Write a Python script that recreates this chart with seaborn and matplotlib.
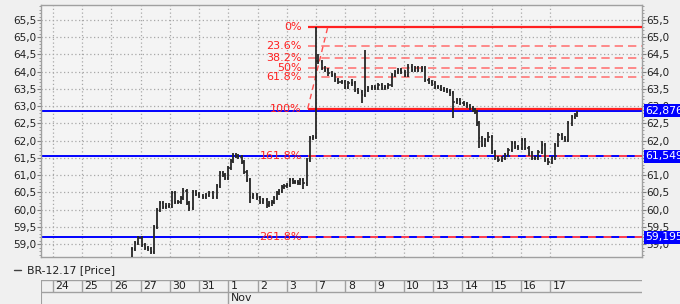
import numpy as np
import matplotlib
matplotlib.use("Agg")
import matplotlib.pyplot as plt
from matplotlib.lines import Line2D
from matplotlib.ticker import FuncFormatter, MultipleLocator
import matplotlib.transforms as mtransforms
import seaborn as sns

# ---------------- data ----------------
day_labels = ["24", "25", "26", "27", "30", "31", "1", "2", "3", "7", "8",
              "9", "10", "13", "14", "15", "16", "17"]
month_label = "Nov"
month_start_day = 6

bar_day = [2.71, 2.80, 2.92, 3.03, 3.15, 3.25, 3.35, 3.45, 3.56, 3.66, 3.76, 3.86,
           3.97, 4.06, 4.17, 4.27, 4.36, 4.45, 4.57, 4.65, 4.79, 4.89, 4.99, 5.13,
           5.23, 5.34, 5.47, 5.60, 5.71, 5.81, 5.88, 5.99, 6.07, 6.16, 6.26, 6.33,
           6.45, 6.53, 6.62, 6.74, 6.84, 6.97, 7.08, 7.18, 7.31, 7.39, 7.48, 7.56,
           7.65, 7.73, 7.82, 7.90, 7.99, 8.11, 8.21, 8.28, 8.38, 8.45, 8.56, 8.68,
           8.79, 8.90, 8.99, 9.07, 9.19, 9.30, 9.42, 9.53, 9.64, 9.76, 9.87, 9.99,
           10.10, 10.22, 10.33, 10.44, 10.56, 10.67, 10.78, 10.90, 11.01, 11.13,
           11.24, 11.35, 11.47, 11.58, 11.70, 11.80, 11.90, 12.04, 12.15, 12.27,
           12.38, 12.49, 12.61, 12.72, 12.84, 12.95, 13.06, 13.17, 13.27, 13.37,
           13.47, 13.58, 13.69, 13.81, 13.92, 14.04, 14.15, 14.26, 14.36, 14.43,
           14.49, 14.55, 14.66, 14.77, 14.89, 15.00, 15.12, 15.23, 15.35, 15.46,
           15.57, 15.69, 15.80, 15.91, 16.03, 16.14, 16.26, 16.37, 16.48, 16.60,
           16.71, 16.83, 16.94, 17.06, 17.17, 17.28, 17.40, 17.51, 17.62, 17.74,
           17.85, 17.92]

bar_close = [58.85, 59.03, 59.18, 58.97, 58.88, 58.85, 58.78, 59.50, 59.99, 60.19, 60.08, 60.12,
             60.10, 60.48, 60.23, 60.23, 60.35, 60.55, 60.19, 60.05, 60.50, 60.45, 60.40, 60.37,
             60.42, 60.48, 60.37, 60.68, 61.06, 61.00, 60.91, 61.20, 61.40, 61.58, 61.55, 61.53,
             61.39, 61.10, 60.86, 60.37, 60.42, 60.33, 60.23, 60.28, 60.13, 60.18, 60.23, 60.35,
             60.48, 60.55, 60.66, 60.68, 60.71, 60.86, 60.80, 60.81, 60.78, 60.86, 60.76, 61.44,
             62.07, 62.12, 64.30, 64.29, 64.10, 64.05, 63.95, 63.90, 63.76, 63.71, 63.71, 63.56,
             63.66, 63.66, 63.47, 63.42, 63.32, 63.47, 63.52, 63.56, 63.52, 63.61,
             63.52, 63.56, 63.61, 63.90, 64.00, 64.05, 64.00, 63.90, 64.15, 64.05,
             64.10, 64.05, 64.10, 63.76, 63.71, 63.66, 63.56, 63.55, 63.50, 63.47,
             63.45, 63.37, 63.13, 63.18, 63.10, 63.06, 63.00, 62.94, 62.89, 62.84,
             62.50, 62.07, 61.87, 62.02, 62.11, 61.68, 61.49, 61.44, 61.49, 61.58,
             61.73, 61.92, 61.82, 61.78, 62.02, 61.78, 61.63, 61.49, 61.49, 61.68,
             61.87, 61.44, 61.39, 61.49, 61.87, 62.16, 62.07, 62.02, 62.50, 62.69,
             62.74, 62.80]

# extreme highs / lows of single bars (bar number -> price)
bar_high_extremes = {62: 65.30, 63: 64.50, 73: 63.80, 77: 64.63, 116: 62.26, 132: 62.00,
                     17: 60.62, 33: 61.63}
bar_low_extremes = {0: 58.50, 58: 60.60, 76: 63.10, 104: 62.66, 113: 61.79, 19: 59.95,
                    39: 60.20, 44: 60.05, 134: 61.30}

blue_levels = [62.876, 61.5492, 59.1955]
blue_labels = ["62,8760", "61,5492", "59,1955"]

fib_names = ["0%", "23.6%", "38.2%", "50%", "61.8%", "100%", "161.8%", "261.8%"]
fib_values = [65.31, 64.74, 64.39, 64.11, 63.84, 62.93, 61.5492, 59.1955]
fib_start_day = 8.71
fib_anchor_day = [8.71, 9.40]
fib_anchor_price = [62.93, 65.31]

legend_label = "BR-12.17 [Price]"

# ---------------- style ----------------
sns.set_style("white")
plt.rcParams["font.family"] = ["DejaVu Sans"]
FS = 7.5

W, H = 680, 304
fig = plt.figure(figsize=(W / 100, H / 100), dpi=100, facecolor="#f0f0f0")

L, R, T, B = 41, 641.7, 5, 257.3
ax = fig.add_axes([L / W, 1 - B / H, (R - L) / W, (B - T) / H])
ax.set_facecolor("#f4f4f4")
xmin = -0.41
xmax = 20.13
ax.set_xlim(xmin, xmax)
ax.set_ylim(58.62, 65.935)

# grid
ax.set_xticks(range(len(day_labels)))
ax.set_yticks(np.arange(59.0, 65.51, 0.5))
ax.yaxis.set_minor_locator(MultipleLocator(0.1))
ax.grid(True, which="major", color="#a8a8a8", linestyle=(0, (1, 2)), linewidth=0.9)
ax.tick_params(axis="x", length=0, labelbottom=False)
ax.tick_params(axis="y", which="major", length=3, width=0.8, color="#808080",
               labelsize=FS, pad=0.5, left=True, right=True, labelleft=True,
               labelright=True, labelcolor="#202020")
ax.tick_params(axis="y", which="minor", length=1.5, width=0.6, color="#909090",
               left=True, right=True)
ax.yaxis.set_major_formatter(FuncFormatter(lambda v, p: f"{v:.1f}".replace(".", ",")))
for s in ax.spines.values():
    s.set_color("#a0a0a0")
    s.set_linewidth(1.0)

# blue horizontal lines
for lv in blue_levels:
    ax.axhline(lv, color="#0000ff", lw=1.4, zorder=2)

# fibonacci levels
for name, val in zip(fib_names, fib_values):
    if name in ("0%", "100%"):
        ax.hlines(val, fib_start_day, xmax, color="#ff2020", lw=1.6, zorder=3)
    elif name in ("161.8%", "261.8%"):
        ax.hlines(val, fib_start_day, xmax, color="#ff4050", lw=1.4,
                  linestyles=(0, (4, 4)), zorder=3)
    else:
        ax.hlines(val, fib_start_day, xmax, color="#ff7878", lw=1.2,
                  linestyles=(0, (5, 3)), zorder=3)
    ax.text(fib_start_day - 0.2, val, name, color="#ff2020", fontsize=FS + 0.5,
            ha="right", va="center", zorder=4)

sns.lineplot(x=fib_anchor_day, y=fib_anchor_price, ax=ax, color="#ff5050",
             lw=1.0, linestyle=(0, (4, 3)), zorder=3)

# OHLC bars
days = np.array(bar_day)
close = np.array(bar_close)
opn = np.concatenate([[close[0]], close[:-1]])
wick = 0.06
high = np.maximum(opn, close) + wick
low = np.minimum(opn, close) - wick
for i, v in bar_high_extremes.items():
    high[i] = v
for i, v in bar_low_extremes.items():
    low[i] = v
tick = 0.04
ax.vlines(days, low, high, color="#262626", lw=1.3, zorder=5)
ax.hlines(opn, days - tick, days, color="#262626", lw=1.1, zorder=5)
ax.hlines(close, days, days + tick, color="#262626", lw=1.1, zorder=5)

# value boxes on right
trans = mtransforms.blended_transform_factory(ax.transAxes, ax.transData)
for lv, lab in zip(blue_levels, blue_labels):
    ax.text(1.0065, lv, lab, transform=trans, color="white", fontsize=FS + 0.3,
            ha="left", va="center", clip_on=False, zorder=10,
            bbox=dict(boxstyle="square,pad=0.15", facecolor="#0000ff",
                      edgecolor="none"))

# legend line
fig.add_artist(Line2D([14 / W, 21 / W], [1 - 270 / H, 1 - 270 / H],
                      color="#404040", lw=1.0))
fig.text(27 / W, 1 - 270 / H, legend_label, fontsize=FS + 0.3, va="center",
         ha="left", color="#202020")

# bottom date table
tb_top, tb_bot = 280, 304
ax2 = fig.add_axes([L / W, 0, (R - L) / W, (tb_bot - tb_top) / H])
ax2.set_xlim(xmin, xmax)
ax2.set_ylim(0, 1)
ax2.axis("off")
sep = 0.5
ax2.axhline(1.0, color="#a0a0a0", lw=1.0)
ax2.axhline(sep, color="#a0a0a0", lw=1.0)
ax2.axvline(xmin, color="#a0a0a0", lw=1.5)
for i, lab in enumerate(day_labels):
    ax2.vlines(i, sep, 1.0, color="#a0a0a0", lw=1.0)
    ax2.text(i + 0.08, (1 + sep) / 2, lab, fontsize=FS + 0.3, ha="left",
             va="center", color="#202020")
ax2.vlines(month_start_day, 0, sep, color="#a0a0a0", lw=1.0)
ax2.text(month_start_day + 0.08, sep / 2 - 0.02, month_label, fontsize=FS + 0.3,
         ha="left", va="center", color="#202020")

fig.savefig("out.png", dpi=100, facecolor=fig.get_facecolor())
